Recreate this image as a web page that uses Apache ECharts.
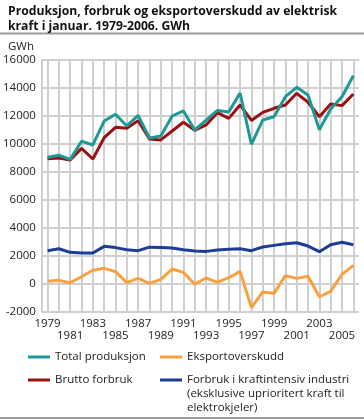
<!DOCTYPE html>
<html><head><meta charset="utf-8">
<script src="https://cdn.jsdelivr.net/npm/echarts@6/dist/echarts.min.js"></script>
<style>html,body{margin:0;padding:0;background:#fff}#c{width:364px;height:419px}</style>
</head><body><div id="c"></div>
<script>
const years = ['1979','1980','1981','1982','1983','1984','1985','1986','1987','1988','1989','1990','1991','1992','1993','1994','1995','1996','1997','1998','1999','2000','2001','2002','2003','2004','2005','2006'];
const totalProduksjon = [9050,9200,8900,10200,9930,11640,12120,11290,12050,10430,10570,12000,12360,11000,11710,12400,12290,13640,9980,11710,11950,13380,14050,13500,11020,12500,13380,14880];
const bruttoForbruk = [8950,9000,8860,9690,8930,10450,11190,11120,11670,10360,10290,10930,11550,10980,11360,12240,11830,12790,11680,12260,12550,12790,13620,12980,11950,12860,12740,13570];
const eksportoverskudd = [190,260,95,520,980,1120,880,100,400,50,330,1070,830,-20,430,120,450,900,-1690,-570,-670,600,400,550,-910,-520,690,1330];
const kraftintensiv = [2380,2520,2260,2210,2210,2690,2600,2450,2380,2630,2600,2570,2450,2360,2330,2430,2480,2520,2380,2640,2760,2880,2950,2710,2310,2810,2980,2810];
const yMin = -2000, yMax = 16000, yStep = 2000;
const names = ['Total produksjon','Eksportoverskudd','Brutto forbruk','Forbruk i kraftintensiv industri\n(eksklusive uprioritert kraft til\nelektrokjeler)'];

const FONT = 'Open Sans';
const gridColor = '#d0d0d0';
const chart = echarts.init(document.getElementById('c'), null, {renderer:'canvas'});
const legendBase = {orient:'horizontal', padding:0, itemWidth:22, itemHeight:3, icon:'rect',
  textStyle:{fontFamily:FONT, fontSize:11.5, color:'#222', lineHeight:14}, selectedMode:false};
chart.setOption({
  animation:false,
  backgroundColor:'#fff',
  title:[
    {text:'Produksjon, forbruk og eksportoverskudd av elektrisk\nkraft i januar. 1979-2006. GWh', left:3, top:-1,
     textStyle:{fontFamily:FONT, fontWeight:'bold', fontSize:12.2, color:'#111', lineHeight:15}},
    {text:'GWh', left:3, top:35, textStyle:{fontFamily:FONT, fontWeight:'normal', fontSize:11.5, color:'#222', lineHeight:14}}
  ],
  graphic:[
    {type:'line', shape:{x1:0,y1:33.5,x2:364,y2:33.5}, style:{stroke:'#9a9a9a', lineWidth:2}},
    {type:'line', shape:{x1:0,y1:418,x2:364,y2:418}, style:{stroke:'#9a9a9a', lineWidth:2}}
  ],
  grid:{left:39, right:5, top:60, height:252, containLabel:false},
  xAxis:[
    {type:'category', data:years, boundaryGap:true,
     axisLine:{show:false}, axisTick:{show:false},
     axisLabel:{interval:(i)=>i%4===0, margin:6, fontFamily:FONT, fontSize:11.5, color:'#222'},
     splitLine:{show:false}},
    {type:'category', data:years, boundaryGap:true, position:'bottom', offset:12,
     axisLine:{show:false}, axisTick:{show:false},
     axisLabel:{interval:(i)=>i%4===2, margin:6, fontFamily:FONT, fontSize:11.5, color:'#222'},
     splitLine:{show:false}}
  ],
  yAxis:{type:'value', min:yMin, max:yMax, interval:yStep,
    axisLine:{show:true, onZero:false, lineStyle:{color:gridColor, width:2}},
    axisTick:{show:false},
    axisLabel:{margin:6, fontFamily:FONT, fontSize:11.5, color:'#222', formatter:(v)=>String(v)},
    splitLine:{show:true, lineStyle:{color:gridColor, width:2}}},
  legend:[
    Object.assign({}, legendBase, {data:[names[0]], left:28, top:350}),
    Object.assign({}, legendBase, {data:[names[1]], left:160, top:350}),
    Object.assign({}, legendBase, {data:[names[2]], left:28, top:373}),
    Object.assign({}, legendBase, {data:[names[3]], left:160, top:345,
      formatter:(n)=>'\n\n'+n})
  ],
  series:[
    {name:names[3], type:'line', data:kraftintensiv, color:'#1c3c96', symbol:'none', lineStyle:{width:3}, z:8,
     markLine:{silent:true, symbol:['none','none'],
       label:{show:false},
       lineStyle:{color:gridColor, width:2, type:'solid'},
       data:years.map(y=>({xAxis:y}))}},
    {name:names[1], type:'line', data:eksportoverskudd, color:'#f9a03f', symbol:'none', lineStyle:{width:3}, z:8},
    {name:names[2], type:'line', data:bruttoForbruk, color:'#9b1010', symbol:'none', lineStyle:{width:3}, z:8},
    {name:names[0], type:'line', data:totalProduksjon, color:'#1d9a96', symbol:'none', lineStyle:{width:3}, z:8}
  ]
});
</script></body></html>
